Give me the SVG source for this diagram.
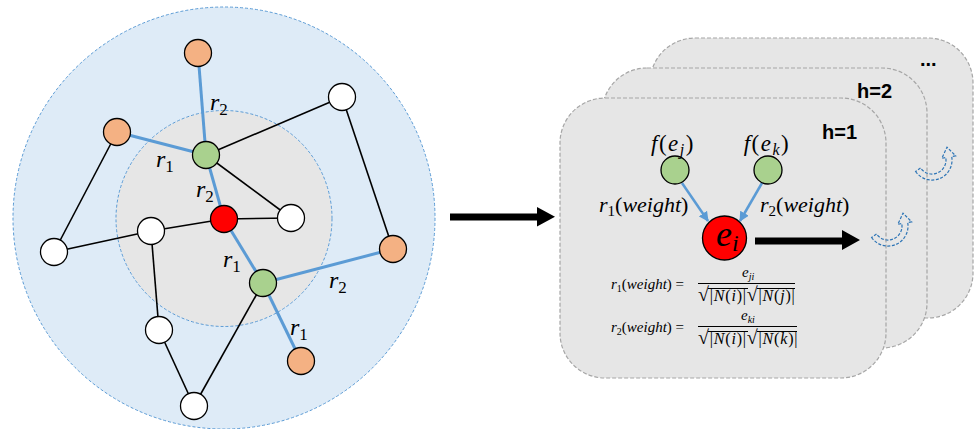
<svg xmlns="http://www.w3.org/2000/svg" width="977" height="429" viewBox="0 0 977 429">
  <defs>
    <style>
      .zone-outer { fill: #deebf7; stroke: #5b9bd5; stroke-width: 1; stroke-dasharray: 3 2; }
      .zone-inner { fill: #e6e6e6; stroke: #5b9bd5; stroke-width: 1; stroke-dasharray: 3 2; }
      .card { fill: #e6e6e6; stroke: #a6a6a6; stroke-width: 1.2; stroke-dasharray: 4 2; }
      .nd { stroke: #000; stroke-width: 1.3; }
      .white { fill: #ffffff; }
      .orange { fill: #f4b183; }
      .green { fill: #a9d18e; }
      .red { fill: #ff0000; }
      .rel { stroke: #5b9bd5; stroke-width: 3; fill: none; }
      .plain { stroke: #000; stroke-width: 1.6; fill: none; }
      .math { font-family: "Liberation Serif", "DejaVu Serif", serif; font-style: italic; fill: #000; }
      .up { font-style: normal; }
      .head { font-family: "Liberation Sans", Arial, sans-serif; font-weight: bold; fill: #000; }
      .loop { fill: none; stroke: #2e75b6; stroke-width: 1.2; stroke-dasharray: 3 1.6; }
      .bar { stroke: #000; stroke-width: 1; }
    </style>
    <marker id="tip" viewBox="0 0 10 10" refX="9" refY="5" markerWidth="4" markerHeight="4" orient="auto" markerUnits="strokeWidth">
      <path d="M0,0 L10,5 L0,10 Z" fill="#5b9bd5"/>
    </marker>
    <!-- hollow U-turn arrow, centred on its arc -->
    <path id="uturn" d="M-16.4 11.5 A20 20 0 0 0 19.7 -3.5 L23.6 -4.2 L15 -12.8 L9.85 -1.7 L13.8 -2.4 A14 14 0 0 1 -11.5 8 Z"/>
  </defs>

  <!-- neighbourhood rings -->
  <g id="rings">
    <circle class="zone-outer" cx="224" cy="218" r="211"/>
    <circle class="zone-inner" cx="224" cy="218.5" r="108"/>
  </g>

  <!-- connectors -->
  <g id="connectors">
    <line class="plain" x1="206" y1="155" x2="342" y2="97"/>
    <line class="plain" x1="206" y1="155" x2="291" y2="218"/>
    <line class="plain" x1="224" y1="219" x2="291" y2="218"/>
    <line class="plain" x1="224" y1="219" x2="151" y2="231"/>
    <line class="plain" x1="151" y1="231" x2="54" y2="252"/>
    <line class="plain" x1="54" y1="252" x2="117" y2="132"/>
    <line class="plain" x1="342" y1="97" x2="393" y2="249"/>
    <line class="plain" x1="151" y1="231" x2="159" y2="330"/>
    <line class="plain" x1="159" y1="330" x2="194" y2="406"/>
    <line class="plain" x1="194" y1="406" x2="263" y2="283"/>
    <line class="rel" x1="198" y1="53" x2="206" y2="155"/>
    <line class="rel" x1="117" y1="132" x2="206" y2="155"/>
    <line class="rel" x1="206" y1="155" x2="224" y2="219"/>
    <line class="rel" x1="224" y1="219" x2="263" y2="283"/>
    <line class="rel" x1="263" y1="283" x2="393" y2="249"/>
    <line class="rel" x1="263" y1="283" x2="301" y2="361"/>
  </g>

  <!-- graph nodes -->
  <g id="n-top-orange"><circle class="nd orange" cx="198" cy="53" r="13.5"/></g>
  <g id="n-left-orange"><circle class="nd orange" cx="117" cy="132" r="13.5"/></g>
  <g id="n-right-orange"><circle class="nd orange" cx="393" cy="249" r="13.5"/></g>
  <g id="n-bottom-orange"><circle class="nd orange" cx="301" cy="361" r="13.5"/></g>
  <g id="n-upper-green"><circle class="nd green" cx="206" cy="155" r="13.5"/></g>
  <g id="n-lower-green"><circle class="nd green" cx="263" cy="283" r="13.5"/></g>
  <g id="n-center"><circle class="nd red" cx="224" cy="219" r="13.5"/></g>
  <g id="n-w1"><circle class="nd white" cx="342" cy="97" r="13.5"/></g>
  <g id="n-w2"><circle class="nd white" cx="291" cy="218" r="13.5"/></g>
  <g id="n-w3"><circle class="nd white" cx="151" cy="231" r="13.5"/></g>
  <g id="n-w4"><circle class="nd white" cx="54" cy="252" r="13.5"/></g>
  <g id="n-w5"><circle class="nd white" cx="159" cy="330" r="13.5"/></g>
  <g id="n-w6"><circle class="nd white" cx="194" cy="406" r="13.5"/></g>

  <!-- relation labels -->
  <g id="rel-labels" class="math" font-size="24">
    <text x="210" y="110">r<tspan class="up" font-size="17" dy="5">2</tspan></text>
    <text x="156" y="167">r<tspan class="up" font-size="17" dy="5">1</tspan></text>
    <text x="196" y="197">r<tspan class="up" font-size="17" dy="5">2</tspan></text>
    <text x="223" y="267">r<tspan class="up" font-size="17" dy="5">1</tspan></text>
    <text x="329" y="288">r<tspan class="up" font-size="17" dy="5">2</tspan></text>
    <text x="290" y="335">r<tspan class="up" font-size="17" dy="5">1</tspan></text>
  </g>

  <!-- transition arrow -->
  <g id="arrow-main">
    <path d="M450 213.5 H537 V207 L555 216.8 L537 226.5 V220.5 H450 Z" fill="#000"/>
  </g>

  <!-- stacked layer cards -->
  <g id="card-3"><rect class="card" x="650" y="38" width="323" height="280" rx="45"/>
    <text class="head" x="920" y="66" font-size="20">...</text>
  </g>
  <g id="card-2"><rect class="card" x="602" y="68" width="325" height="280" rx="45"/>
    <text class="head" x="857" y="98" font-size="20">h=2</text>
  </g>
  <g id="card-1"><rect class="card" x="560" y="98" width="326" height="280" rx="45"/>
    <text class="head" x="822" y="139" font-size="20">h=1</text>
  </g>

  <!-- recurrence loops -->
  <g id="loops">
    <use href="#uturn" class="loop" transform="translate(888 226)"/>
    <use href="#uturn" class="loop" transform="translate(932 160)"/>
  </g>

  <!-- layer contents -->
  <g id="card-edges">
    <line x1="682" y1="183" x2="708" y2="221" stroke="#5b9bd5" stroke-width="2.5" marker-end="url(#tip)"/>
    <line x1="762" y1="183" x2="740" y2="221" stroke="#5b9bd5" stroke-width="2.5" marker-end="url(#tip)"/>
    <path d="M755 237.5 H842 V230 L860 240 L842 250 V244.5 H755 Z" fill="#000"/>
  </g>
  <g id="f-ej"><circle class="nd green" cx="675" cy="170" r="14"/>
    <text class="math" x="673" y="151" font-size="23" letter-spacing="1.5" text-anchor="middle">f<tspan class="up">(</tspan>e<tspan font-size="16" dy="4">j</tspan><tspan class="up" dy="-4">)</tspan></text>
  </g>
  <g id="f-ek"><circle class="nd green" cx="768" cy="170" r="14"/>
    <text class="math" x="767" y="151" font-size="23" letter-spacing="1.5" text-anchor="middle">f<tspan class="up">(</tspan>e<tspan font-size="16" dy="4">k</tspan><tspan class="up" dy="-4">)</tspan></text>
  </g>
  <g id="e-i"><circle class="nd red" cx="724.5" cy="238" r="22"/>
    <text class="math" x="716" y="246" font-size="36">e<tspan font-size="24" dy="5">i</tspan></text>
  </g>
  <g id="weight-labels" class="math" font-size="22">
    <text x="599" y="212">r<tspan class="up" font-size="15" dy="4">1</tspan><tspan class="up" dy="-4">(</tspan>weight<tspan class="up">)</tspan></text>
    <text x="760" y="212">r<tspan class="up" font-size="15" dy="4">2</tspan><tspan class="up" dy="-4">(</tspan>weight<tspan class="up">)</tspan></text>
  </g>

  <!-- normalisation formulas -->
  <g id="formula-1" class="math" font-size="15">
    <text x="611" y="289">r<tspan class="up" font-size="10" dy="3">1</tspan><tspan class="up" dy="-3">(</tspan>weight<tspan class="up">) =</tspan></text>
    <text x="742" y="277">e<tspan font-size="10" dy="3">ji</tspan></text>
    <line class="bar" x1="698" y1="283.5" x2="795" y2="283.5"/>
    <text x="698" y="301" font-size="16" letter-spacing="0.8"><tspan class="up" font-size="20">√</tspan><tspan class="up">|</tspan>N<tspan class="up">(</tspan>i<tspan class="up">)|</tspan><tspan class="up" font-size="20">√</tspan><tspan class="up">|</tspan>N<tspan class="up">(</tspan>j<tspan class="up">)|</tspan></text>
    <line class="bar" x1="708" y1="288.5" x2="748" y2="288.5"/>
    <line class="bar" x1="757" y1="288.5" x2="795" y2="288.5"/>
  </g>
  <g id="formula-2" class="math" font-size="15">
    <text x="611" y="332">r<tspan class="up" font-size="10" dy="3">2</tspan><tspan class="up" dy="-3">(</tspan>weight<tspan class="up">) =</tspan></text>
    <text x="741" y="320">e<tspan font-size="10" dy="3">ki</tspan></text>
    <line class="bar" x1="698" y1="326.5" x2="797" y2="326.5"/>
    <text x="698" y="344" font-size="16" letter-spacing="0.8"><tspan class="up" font-size="20">√</tspan><tspan class="up">|</tspan>N<tspan class="up">(</tspan>i<tspan class="up">)|</tspan><tspan class="up" font-size="20">√</tspan><tspan class="up">|</tspan>N<tspan class="up">(</tspan>k<tspan class="up">)|</tspan></text>
    <line class="bar" x1="708" y1="331.5" x2="748" y2="331.5"/>
    <line class="bar" x1="757" y1="331.5" x2="797" y2="331.5"/>
  </g>
</svg>
